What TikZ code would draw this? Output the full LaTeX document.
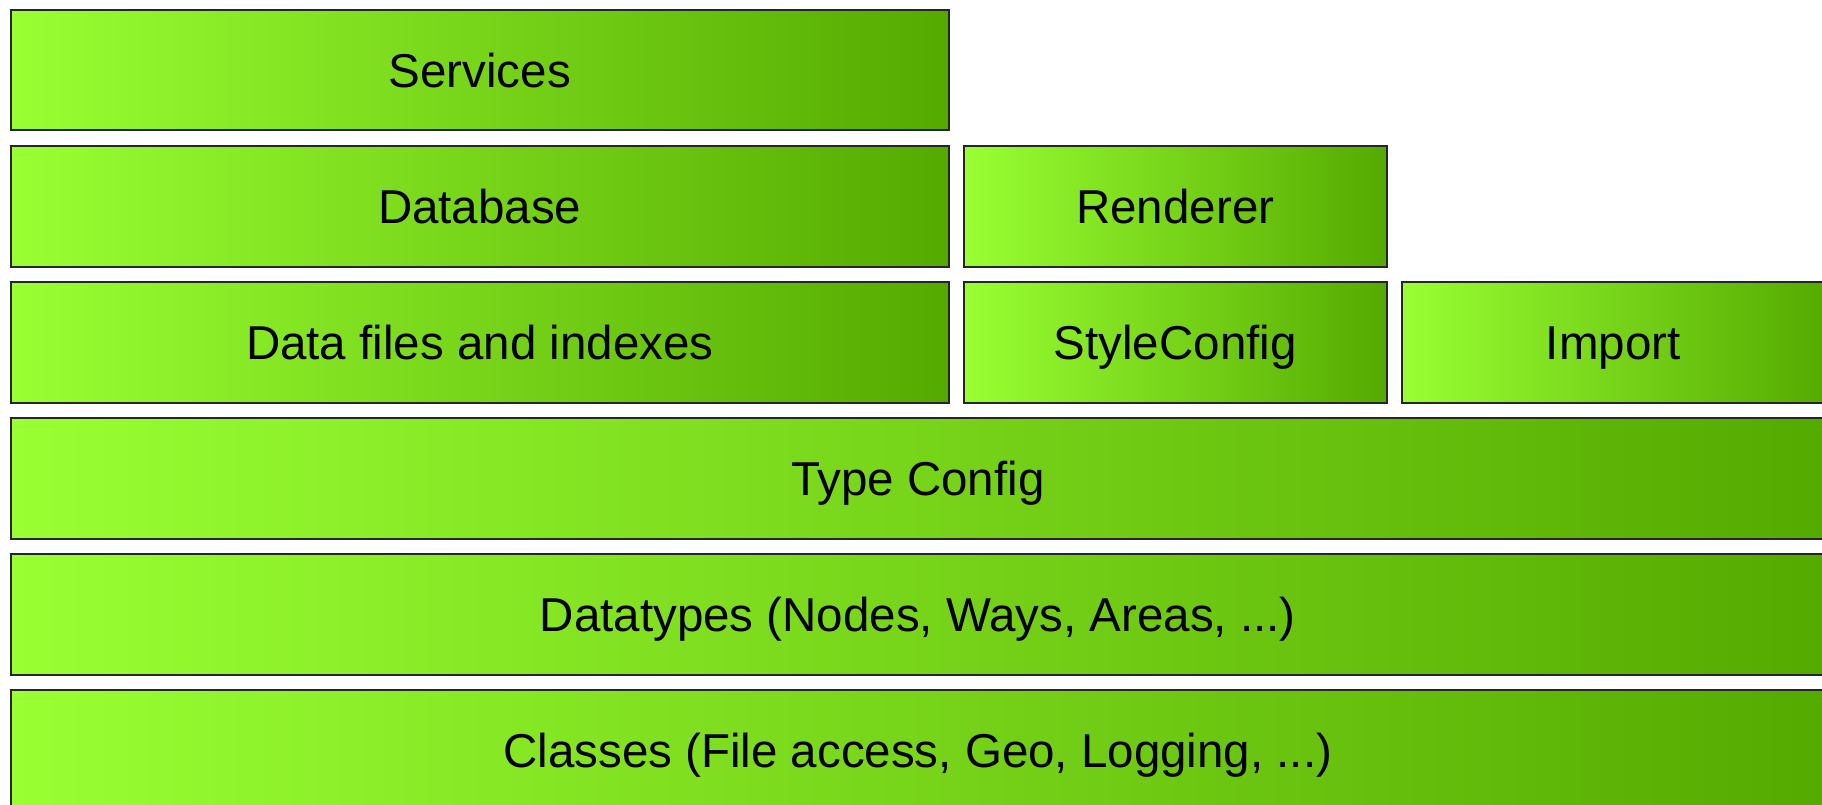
\documentclass[tikz,border=0pt]{standalone}
\usepackage{fontspec}
\setmainfont{Liberation Sans}
\definecolor{gl}{RGB}{153,255,51}
\definecolor{gr}{RGB}{85,170,0}
\begin{document}
\begin{tikzpicture}[x=1pt,y=-1pt,
  layer/.style={draw=black!85,line width=1.5pt,left color=gl,right color=gr,
    font=\fontsize{47.5}{50}\selectfont,inner sep=0pt,text height=40pt,text depth=5.5pt}]
\useasboundingbox (0,0) rectangle (1822,804);
\clip (0,0) rectangle (1822,804);
\fill[white] (0,0) rectangle (1822,804);
\node[layer,minimum width=938pt,minimum height=120pt,anchor=north west] (services) at (10,9) {Services};
\node[layer,minimum width=938pt,minimum height=121pt,anchor=north west] (database) at (10,145) {Database};
\node[layer,minimum width=423pt,minimum height=121pt,anchor=north west] (renderer) at (963,145) {Renderer};
\node[layer,minimum width=938pt,minimum height=121pt,anchor=north west] (datafiles) at (10,281) {Data files and indexes};
\node[layer,minimum width=423pt,minimum height=121pt,anchor=north west] (styleconfig) at (963,281) {StyleConfig};
\node[layer,minimum width=423pt,minimum height=121pt,anchor=north west] (import) at (1401,281) {Import};
\node[layer,minimum width=1814pt,minimum height=121pt,anchor=north west] (typeconfig) at (10,417) {Type Config};
\node[layer,minimum width=1814pt,minimum height=121pt,anchor=north west] (datatypes) at (10,553) {Datatypes (Nodes, Ways, Areas, ...)};
\node[layer,minimum width=1814pt,minimum height=121pt,anchor=north west] (classes) at (10,689) {Classes (File access, Geo, Logging, ...)};
\end{tikzpicture}
\end{document}
